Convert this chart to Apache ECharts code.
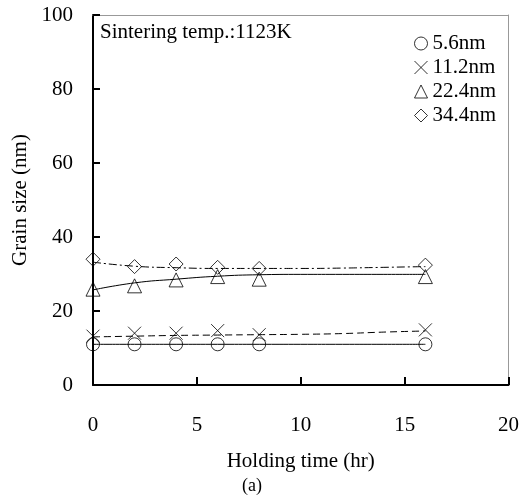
<!DOCTYPE html>
<html>
<head>
<meta charset="utf-8">
<script src="https://cdn.jsdelivr.net/npm/echarts@6/dist/echarts.min.js"></script>
<style>
  html, body { margin: 0; padding: 0; background: #fff; }
  #chart { width: 522px; height: 503px; }
</style>
</head>
<body>
<div id="chart"></div>
<script>
// measured points
var holdTime = [0, 2, 4, 6, 8, 16];
var size56 = [11.0, 11.0, 11.0, 11.0, 11.0, 11.0];
var size112 = [13.2, 14.0, 14.0, 14.7, 13.6, 14.9];
var size224 = [25.9, 26.8, 28.4, 29.3, 28.6, 29.3];
var size344 = [34.0, 32.0, 32.7, 31.8, 31.5, 32.4];

// fitted curves
var fitTime = [0, 2, 4, 6, 8, 10, 12, 14, 16];
var fit56 = [11.0, 11.0, 11.0, 11.0, 11.0, 11.0, 11.0, 11.0, 11.0];
var fit112 = [13.0, 13.2, 13.4, 13.5, 13.6, 13.7, 13.9, 14.3, 14.6];
var fit224 = [25.7, 27.6, 28.6, 29.4, 29.8, 29.9, 29.9, 29.9, 29.9];
var fit344 = [33.2, 32.1, 31.7, 31.5, 31.5, 31.5, 31.6, 31.8, 32.0];

var names = ['5.6nm', '11.2nm', '22.4nm', '34.4nm'];

var font = 'Liberation Serif';
var crossPath = 'path://M0,0L10,10M10,0L0,10';
var diamondPath = 'path://M5,0L10,5L5,10L0,5Z';

function pairs(xs, ys) {
    return xs.map(function (x, i) { return [x, ys[i]]; });
}

var hollow = { color: 'rgba(0,0,0,0)', borderColor: '#000', borderWidth: 1 };

function pointSeries(name, ys, symbol, symSize) {
    return {
        name: name,
        type: 'scatter',
        data: pairs(holdTime, ys),
        symbol: symbol,
        symbolSize: symSize,
        itemStyle: hollow,
        z: 3
    };
}

function fitSeries(ys, lineType) {
    return {
        type: 'line',
        data: pairs(fitTime, ys),
        smooth: true,
        showSymbol: false,
        silent: true,
        lineStyle: { color: '#000', width: 1, type: lineType },
        z: 2
    };
}

// thin grey frame on top and right
function frameAxis(pos, min, max) {
    return {
        type: 'value', position: pos, min: min, max: max,
        axisLine: { show: true, onZero: false, lineStyle: { color: '#999', width: 1 } },
        axisTick: { show: false },
        axisLabel: { show: false },
        splitLine: { show: false }
    };
}

var chart = echarts.init(document.getElementById('chart'));
chart.setOption({
    animation: false,
    backgroundColor: '#fff',
    textStyle: { fontFamily: font, color: '#000' },
    grid: { left: 93, right: 12, top: 15, bottom: 118 },
    title: {
        text: 'Sintering temp.:1123K',
        left: 95, top: 17,
        textStyle: { fontFamily: font, fontSize: 21, fontWeight: 'normal', color: '#000' }
    },
    legend: {
        orient: 'vertical',
        left: 409, top: 28,
        itemGap: 3,
        itemWidth: 13, itemHeight: 13,
        textStyle: { fontFamily: font, fontSize: 21, color: '#000' },
        data: [
            { name: names[0], icon: 'circle', itemStyle: hollow },
            { name: names[1], icon: crossPath, itemStyle: hollow },
            { name: names[2], icon: 'triangle', itemStyle: hollow },
            { name: names[3], icon: diamondPath, itemStyle: hollow }
        ]
    },
    graphic: [{
        type: 'text',
        left: 242, top: 477,
        style: { text: '(a)', font: '18px "Liberation Serif"', fill: '#000' }
    }],
    xAxis: [{
        type: 'value',
        min: 0, max: 20, interval: 5,
        name: 'Holding time (hr)',
        nameLocation: 'middle',
        nameGap: 66,
        nameTextStyle: { fontFamily: font, fontSize: 21, color: '#000' },
        axisLine: { onZero: false, lineStyle: { color: '#000', width: 2 } },
        axisTick: { show: true, inside: true, length: 8, lineStyle: { color: '#000', width: 2 } },
        axisLabel: { margin: 30, fontFamily: font, fontSize: 21, color: '#000' },
        splitLine: { show: false }
    }, frameAxis('top', 0, 20)],
    yAxis: [{
        type: 'value',
        min: 0, max: 100, interval: 20,
        name: 'Grain size (nm)',
        nameLocation: 'middle',
        nameGap: 60,
        nameTextStyle: { fontFamily: font, fontSize: 21, color: '#000' },
        axisLine: { show: true, onZero: false, lineStyle: { color: '#000', width: 2 } },
        axisTick: { show: true, inside: true, length: 7, lineStyle: { color: '#000', width: 2 } },
        axisLabel: { margin: 20, fontFamily: font, fontSize: 21, color: '#000' },
        splitLine: { show: false }
    }, frameAxis('right', 0, 100)],
    series: [
        fitSeries(fit56, 'solid'),
        fitSeries(fit112, [7, 4]),
        fitSeries(fit224, 'solid'),
        fitSeries(fit344, [8, 3, 2, 3]),
        pointSeries(names[0], size56, 'circle', 13),
        pointSeries(names[1], size112, crossPath, 13),
        pointSeries(names[2], size224, 'triangle', 14),
        pointSeries(names[3], size344, diamondPath, 14)
    ]
});
</script>
</body>
</html>
